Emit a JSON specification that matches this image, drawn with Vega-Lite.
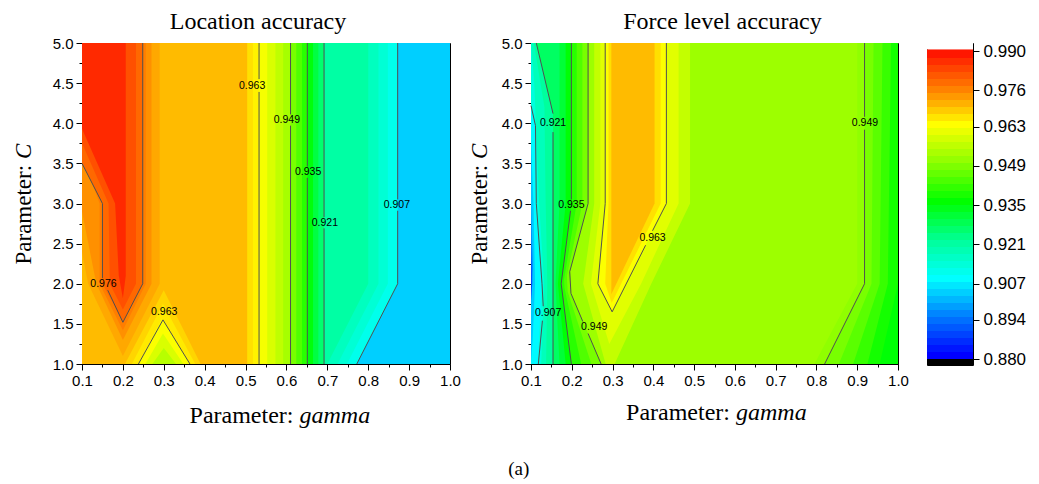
{
  "$schema": "https://vega.github.io/schema/vega-lite/v6.json",
  "background": "white",
  "padding": {"left": 11, "top": 9, "right": 5, "bottom": 5},
  "config": {
    "view": {"stroke": "black", "strokeWidth": 1},
    "axis": {"domainColor": "black", "tickColor": "black", "labelColor": "black", "titleColor": "black", "grid": false, "labelFont": "Liberation Sans", "titleFont": "Liberation Serif", "titleFontWeight": "normal", "labelFontSize": 15, "titleFontSize": 23, "labelOverlap": false, "labelFlush": false},
    "title": {"font": "Liberation Serif", "fontWeight": "normal", "fontSize": 24, "color": "black"}
  },
  "datasets": {
    "locBands": [
      {"b":"b01","v":0.969,"c":1,"g":0.1,"g2":1},{"b":"b01","v":0.969,"c":5,"g":0.1,"g2":1},
      {"b":"b02","v":0.9655,"c":1,"g":0.504,"g2":1},{"b":"b02","v":0.9655,"c":5,"g":0.504,"g2":1},
      {"b":"b03","v":0.9637,"c":1,"g":0.518,"g2":1},{"b":"b03","v":0.9637,"c":5,"g":0.518,"g2":1},
      {"b":"b04","v":0.9615,"c":1,"g":0.533,"g2":1},{"b":"b04","v":0.9615,"c":5,"g":0.533,"g2":1},
      {"b":"b05","v":0.958,"c":1,"g":0.553,"g2":1},{"b":"b05","v":0.958,"c":5,"g":0.553,"g2":1},
      {"b":"b06","v":0.955,"c":1,"g":0.573,"g2":1},{"b":"b06","v":0.955,"c":5,"g":0.573,"g2":1},
      {"b":"b07","v":0.952,"c":1,"g":0.592,"g2":1},{"b":"b07","v":0.952,"c":5,"g":0.592,"g2":1},
      {"b":"b08","v":0.947,"c":1,"g":0.61,"g2":1},{"b":"b08","v":0.947,"c":5,"g":0.61,"g2":1},
      {"b":"b09","v":0.943,"c":1,"g":0.624,"g2":1},{"b":"b09","v":0.943,"c":5,"g":0.624,"g2":1},
      {"b":"b10","v":0.939,"c":1,"g":0.638,"g2":1},{"b":"b10","v":0.939,"c":5,"g":0.638,"g2":1},
      {"b":"b11","v":0.934,"c":1,"g":0.651,"g2":1},{"b":"b11","v":0.934,"c":5,"g":0.651,"g2":1},
      {"b":"b12","v":0.929,"c":1,"g":0.665,"g2":1},{"b":"b12","v":0.929,"c":5,"g":0.665,"g2":1},
      {"b":"b13","v":0.925,"c":1,"g":0.678,"g2":1},{"b":"b13","v":0.925,"c":5,"g":0.678,"g2":1},
      {"b":"b14","v":0.9195,"c":1,"g":0.692,"g2":1},{"b":"b14","v":0.9195,"c":5,"g":0.692,"g2":1},
      {"b":"b15","v":0.916,"c":1,"g":0.70,"g2":1},{"b":"b15","v":0.916,"c":2,"g":0.80,"g2":1},{"b":"b15","v":0.916,"c":5,"g":0.80,"g2":1},
      {"b":"b16","v":0.913,"c":1,"g":0.725,"g2":1},{"b":"b16","v":0.913,"c":2,"g":0.825,"g2":1},{"b":"b16","v":0.913,"c":5,"g":0.825,"g2":1},
      {"b":"b17","v":0.910,"c":1,"g":0.748,"g2":1},{"b":"b17","v":0.910,"c":2,"g":0.848,"g2":1},{"b":"b17","v":0.910,"c":5,"g":0.848,"g2":1},
      {"b":"b18","v":0.9025,"c":1,"g":0.772,"g2":1},{"b":"b18","v":0.9025,"c":2,"g":0.872,"g2":1},{"b":"b18","v":0.9025,"c":5,"g":0.872,"g2":1},
      {"b":"b19","v":0.971,"c":1.1,"g":0.2,"g2":0.2},{"b":"b19","v":0.971,"c":2.0,"g":0.115,"g2":0.29},{"b":"b19","v":0.971,"c":2.4,"g":0.1,"g2":0.29},{"b":"b19","v":0.971,"c":5,"g":0.1,"g2":0.29},
      {"b":"b20","v":0.9735,"c":1.3,"g":0.2,"g2":0.2},{"b":"b20","v":0.9735,"c":2.0,"g":0.135,"g2":0.27},{"b":"b20","v":0.9735,"c":2.9,"g":0.1,"g2":0.27},{"b":"b20","v":0.9735,"c":5,"g":0.1,"g2":0.27},
      {"b":"b21","v":0.9755,"c":1.42,"g":0.2,"g2":0.2},{"b":"b21","v":0.9755,"c":2.0,"g":0.143,"g2":0.256},{"b":"b21","v":0.9755,"c":3.0,"g":0.143,"g2":0.256},{"b":"b21","v":0.9755,"c":3.6,"g":0.1,"g2":0.256},{"b":"b21","v":0.9755,"c":5,"g":0.1,"g2":0.256},
      {"b":"b22","v":0.978,"c":1.52,"g":0.2,"g2":0.2},{"b":"b22","v":0.978,"c":2.0,"g":0.15,"g2":0.2485},{"b":"b22","v":0.978,"c":3.0,"g":0.15,"g2":0.2485},{"b":"b22","v":0.978,"c":3.5,"g":0.1,"g2":0.2485},{"b":"b22","v":0.978,"c":5,"g":0.1,"g2":0.2485},
      {"b":"b23","v":0.981,"c":1.68,"g":0.2,"g2":0.2},{"b":"b23","v":0.981,"c":2.0,"g":0.168,"g2":0.232},{"b":"b23","v":0.981,"c":3.0,"g":0.165,"g2":0.232},{"b":"b23","v":0.981,"c":3.75,"g":0.1,"g2":0.232},{"b":"b23","v":0.981,"c":5,"g":0.1,"g2":0.232},
      {"b":"b24","v":0.9855,"c":1.82,"g":0.2,"g2":0.2},{"b":"b24","v":0.9855,"c":2.1,"g":0.19,"g2":0.207},{"b":"b24","v":0.9855,"c":3.0,"g":0.181,"g2":0.207},{"b":"b24","v":0.9855,"c":3.93,"g":0.1,"g2":0.207},{"b":"b24","v":0.9855,"c":5,"g":0.1,"g2":0.207},
      {"b":"b25","v":0.9665,"c":1,"g":0.205,"g2":0.39},{"b":"b25","v":0.9665,"c":1.92,"g":0.3,"g2":0.3},
      {"b":"b26","v":0.9645,"c":1,"g":0.222,"g2":0.377},{"b":"b26","v":0.9645,"c":1.75,"g":0.298,"g2":0.298},
      {"b":"b27","v":0.962,"c":1,"g":0.238,"g2":0.364},{"b":"b27","v":0.962,"c":1.57,"g":0.296,"g2":0.296},
      {"b":"b28","v":0.958,"c":1,"g":0.255,"g2":0.348},{"b":"b28","v":0.958,"c":1.38,"g":0.298,"g2":0.298},
      {"b":"b29","v":0.954,"c":1,"g":0.272,"g2":0.33},{"b":"b29","v":0.954,"c":1.2,"g":0.3,"g2":0.3}
    ],
    "forceBands": [
      {"b":"f01","v":0.951,"c":1,"g":0.1,"g2":1},{"b":"f01","v":0.951,"c":5,"g":0.1,"g2":1},
      {"b":"f02","v":0.9555,"c":1,"g":0.283,"g2":0.305},{"b":"f02","v":0.9555,"c":2,"g":0.228,"g2":0.395},{"b":"f02","v":0.9555,"c":3,"g":0.255,"g2":0.49},{"b":"f02","v":0.9555,"c":5,"g":0.255,"g2":0.49},
      {"b":"f03","v":0.959,"c":1.25,"g":0.292,"g2":0.292},{"b":"f03","v":0.959,"c":2,"g":0.247,"g2":0.37},{"b":"f03","v":0.959,"c":3,"g":0.27,"g2":0.462},{"b":"f03","v":0.959,"c":5,"g":0.27,"g2":0.462},
      {"b":"f04","v":0.9622,"c":1.65,"g":0.299,"g2":0.299},{"b":"f04","v":0.9622,"c":2,"g":0.264,"g2":0.333},{"b":"f04","v":0.9622,"c":3,"g":0.282,"g2":0.432},{"b":"f04","v":0.9622,"c":5,"g":0.282,"g2":0.432},
      {"b":"f05","v":0.9655,"c":1.76,"g":0.298,"g2":0.298},{"b":"f05","v":0.9655,"c":2,"g":0.282,"g2":0.321},{"b":"f05","v":0.9655,"c":3,"g":0.29,"g2":0.418},{"b":"f05","v":0.9655,"c":5,"g":0.29,"g2":0.418},
      {"b":"f06","v":0.969,"c":1.87,"g":0.297,"g2":0.297},{"b":"f06","v":0.969,"c":3,"g":0.297,"g2":0.403},{"b":"f06","v":0.969,"c":5,"g":0.297,"g2":0.403},
      {"b":"f07","v":0.947,"c":1,"g":0.1,"g2":0.272},{"b":"f07","v":0.947,"c":1.88,"g":0.1,"g2":0.198},{"b":"f07","v":0.947,"c":2.15,"g":0.1,"g2":0.195},{"b":"f07","v":0.947,"c":3,"g":0.1,"g2":0.24},{"b":"f07","v":0.947,"c":5,"g":0.1,"g2":0.24},
      {"b":"f08","v":0.943,"c":1,"g":0.1,"g2":0.248},{"b":"f08","v":0.943,"c":1.9,"g":0.1,"g2":0.19},{"b":"f08","v":0.943,"c":2.1,"g":0.1,"g2":0.188},{"b":"f08","v":0.943,"c":3,"g":0.1,"g2":0.226},{"b":"f08","v":0.943,"c":5,"g":0.1,"g2":0.226},
      {"b":"f09","v":0.939,"c":1,"g":0.1,"g2":0.223},{"b":"f09","v":0.939,"c":1.95,"g":0.1,"g2":0.182},{"b":"f09","v":0.939,"c":2.05,"g":0.1,"g2":0.181},{"b":"f09","v":0.939,"c":3,"g":0.1,"g2":0.212},{"b":"f09","v":0.939,"c":5,"g":0.1,"g2":0.212},
      {"b":"f10","v":0.9345,"c":1,"g":0.1,"g2":0.199},{"b":"f10","v":0.9345,"c":2,"g":0.1,"g2":0.174},{"b":"f10","v":0.9345,"c":3,"g":0.1,"g2":0.199},{"b":"f10","v":0.9345,"c":5,"g":0.1,"g2":0.199},
      {"b":"f11","v":0.930,"c":1,"g":0.1,"g2":0.185},{"b":"f11","v":0.930,"c":2,"g":0.1,"g2":0.166},{"b":"f11","v":0.930,"c":3,"g":0.1,"g2":0.185},{"b":"f11","v":0.930,"c":5,"g":0.1,"g2":0.185},
      {"b":"f12","v":0.926,"c":1,"g":0.1,"g2":0.17},{"b":"f12","v":0.926,"c":2,"g":0.1,"g2":0.16},{"b":"f12","v":0.926,"c":3,"g":0.1,"g2":0.17},{"b":"f12","v":0.926,"c":5,"g":0.1,"g2":0.17},
      {"b":"f13","v":0.9205,"c":1,"g":0.1,"g2":0.154},{"b":"f13","v":0.9205,"c":4.12,"g":0.1,"g2":0.154},{"b":"f13","v":0.9205,"c":5,"g":0.1,"g2":0.113},
      {"b":"f14","v":0.9165,"c":1,"g":0.1,"g2":0.137},{"b":"f14","v":0.9165,"c":2,"g":0.1,"g2":0.14},{"b":"f14","v":0.9165,"c":3,"g":0.1,"g2":0.136},{"b":"f14","v":0.9165,"c":4.2,"g":0.1,"g2":0.133},{"b":"f14","v":0.9165,"c":5,"g":0.1,"g2":0.107},
      {"b":"f15","v":0.912,"c":1,"g":0.1,"g2":0.125},{"b":"f15","v":0.912,"c":2,"g":0.1,"g2":0.132},{"b":"f15","v":0.912,"c":3,"g":0.1,"g2":0.12},{"b":"f15","v":0.912,"c":4.5,"g":0.1,"g2":0.108},{"b":"f15","v":0.912,"c":5,"g":0.1,"g2":0.1},
      {"b":"f16","v":0.907,"c":1,"g":0.1,"g2":0.117},{"b":"f16","v":0.907,"c":2,"g":0.1,"g2":0.126},{"b":"f16","v":0.907,"c":3,"g":0.1,"g2":0.113},{"b":"f16","v":0.907,"c":3.97,"g":0.1,"g2":0.111},{"b":"f16","v":0.907,"c":4.22,"g":0.1,"g2":0.1},
      {"b":"f17","v":0.902,"c":1,"g":0.1,"g2":0.1},{"b":"f17","v":0.902,"c":1.3,"g":0.1,"g2":0.104},{"b":"f17","v":0.902,"c":2,"g":0.1,"g2":0.11},{"b":"f17","v":0.902,"c":3,"g":0.1,"g2":0.106},{"b":"f17","v":0.902,"c":3.8,"g":0.1,"g2":0.1},
      {"b":"f18","v":0.896,"c":1.7,"g":0.1,"g2":0.1},{"b":"f18","v":0.896,"c":2.2,"g":0.1,"g2":0.105},{"b":"f18","v":0.896,"c":3,"g":0.1,"g2":0.1},
      {"b":"f19","v":0.889,"c":1.8,"g":0.1,"g2":0.1},{"b":"f19","v":0.889,"c":2.0,"g":0.1,"g2":0.103},{"b":"f19","v":0.889,"c":2.5,"g":0.1,"g2":0.1},
      {"b":"f20","v":0.9495,"c":1,"g":0.795,"g2":1},{"b":"f20","v":0.9495,"c":2,"g":0.9,"g2":1},{"b":"f20","v":0.9495,"c":5,"g":0.9,"g2":1},
      {"b":"f21","v":0.947,"c":1,"g":0.82,"g2":1},{"b":"f21","v":0.947,"c":2,"g":0.918,"g2":1},{"b":"f21","v":0.947,"c":5,"g":0.918,"g2":1},
      {"b":"f22","v":0.944,"c":1,"g":0.855,"g2":1},{"b":"f22","v":0.944,"c":2,"g":0.935,"g2":1},{"b":"f22","v":0.944,"c":5,"g":0.94,"g2":1},
      {"b":"f23","v":0.9405,"c":1,"g":0.89,"g2":1},{"b":"f23","v":0.9405,"c":2,"g":0.955,"g2":1},{"b":"f23","v":0.9405,"c":5,"g":0.962,"g2":1},
      {"b":"f24","v":0.937,"c":1,"g":0.925,"g2":1},{"b":"f24","v":0.937,"c":2,"g":0.975,"g2":1},{"b":"f24","v":0.937,"c":5,"g":0.983,"g2":1},
      {"b":"f25","v":0.9345,"c":1,"g":0.955,"g2":1},{"b":"f25","v":0.9345,"c":2,"g":1,"g2":1}
    ],
    "locLines": [
      {"id":"a1","o":1,"c":3.5,"g":0.1},{"id":"a1","o":2,"c":3.0,"g":0.15},{"id":"a1","o":3,"c":2.07,"g":0.15},
      {"id":"a2","o":1,"c":1.92,"g":0.163},{"id":"a2","o":2,"c":1.52,"g":0.2},{"id":"a2","o":3,"c":2.0,"g":0.2485},{"id":"a2","o":4,"c":5.0,"g":0.2485},
      {"id":"a3","o":1,"c":1.0,"g":0.238},{"id":"a3","o":2,"c":1.55,"g":0.298},{"id":"a3","o":3,"c":1.0,"g":0.364},
      {"id":"a4","o":1,"c":5.0,"g":0.533},{"id":"a4","o":2,"c":4.55,"g":0.533},
      {"id":"a5","o":1,"c":4.39,"g":0.533},{"id":"a5","o":2,"c":1.0,"g":0.533},
      {"id":"a6","o":1,"c":5.0,"g":0.61},{"id":"a6","o":2,"c":4.11,"g":0.61},
      {"id":"a7","o":1,"c":3.97,"g":0.61},{"id":"a7","o":2,"c":1.0,"g":0.61},
      {"id":"a8","o":1,"c":5.0,"g":0.651},{"id":"a8","o":2,"c":3.46,"g":0.651},
      {"id":"a9","o":1,"c":3.32,"g":0.651},{"id":"a9","o":2,"c":1.0,"g":0.651},
      {"id":"b1","o":1,"c":5.0,"g":0.692},{"id":"b1","o":2,"c":2.83,"g":0.692},
      {"id":"b2","o":1,"c":2.69,"g":0.692},{"id":"b2","o":2,"c":1.0,"g":0.692},
      {"id":"b3","o":1,"c":5.0,"g":0.872},{"id":"b3","o":2,"c":3.05,"g":0.872},
      {"id":"b4","o":1,"c":2.91,"g":0.872},{"id":"b4","o":2,"c":2.0,"g":0.872},{"id":"b4","o":3,"c":1.0,"g":0.772}
    ],
    "forceLines": [
      {"id":"a1","o":1,"c":5.0,"g":0.113},{"id":"a1","o":2,"c":4.12,"g":0.154},
      {"id":"a2","o":1,"c":3.89,"g":0.154},{"id":"a2","o":2,"c":1.0,"g":0.154},
      {"id":"a3","o":1,"c":4.22,"g":0.1},{"id":"a3","o":2,"c":3.97,"g":0.111},{"id":"a3","o":3,"c":3.0,"g":0.113},{"id":"a3","o":4,"c":2.0,"g":0.127},{"id":"a3","o":5,"c":1.72,"g":0.13},
      {"id":"a4","o":1,"c":1.54,"g":0.128},{"id":"a4","o":2,"c":1.0,"g":0.118},
      {"id":"a5","o":1,"c":5.0,"g":0.199},{"id":"a5","o":2,"c":3.05,"g":0.199},
      {"id":"a6","o":1,"c":2.91,"g":0.197},{"id":"a6","o":2,"c":2.0,"g":0.174},{"id":"a6","o":3,"c":1.0,"g":0.199},
      {"id":"a7","o":1,"c":5.0,"g":0.24},{"id":"a7","o":2,"c":3.0,"g":0.24},{"id":"a7","o":3,"c":2.15,"g":0.195},{"id":"a7","o":4,"c":1.88,"g":0.198},{"id":"a7","o":5,"c":1.53,"g":0.227},
      {"id":"a8","o":1,"c":1.38,"g":0.24},{"id":"a8","o":2,"c":1.0,"g":0.272},
      {"id":"a9","o":1,"c":5.0,"g":0.282},{"id":"a9","o":2,"c":3.0,"g":0.282},{"id":"a9","o":3,"c":2.0,"g":0.264},{"id":"a9","o":4,"c":1.65,"g":0.299},{"id":"a9","o":5,"c":2.48,"g":0.381},
      {"id":"b1","o":1,"c":2.66,"g":0.398},{"id":"b1","o":2,"c":3.0,"g":0.432},{"id":"b1","o":3,"c":5.0,"g":0.432},
      {"id":"b2","o":1,"c":5.0,"g":0.918},{"id":"b2","o":2,"c":4.08,"g":0.918},
      {"id":"b3","o":1,"c":3.92,"g":0.918},{"id":"b3","o":2,"c":2.0,"g":0.918},{"id":"b3","o":3,"c":1.0,"g":0.82}
    ],
    "locLabels": [
      {"t":"0.976","c":2.0,"g":0.1525},
      {"t":"0.963","c":1.65,"g":0.301},
      {"t":"0.963","c":4.47,"g":0.516},
      {"t":"0.949","c":4.04,"g":0.601},
      {"t":"0.935","c":3.39,"g":0.653},
      {"t":"0.921","c":2.76,"g":0.694},
      {"t":"0.907","c":2.98,"g":0.870}
    ],
    "forceLabels": [
      {"t":"0.921","c":4.0,"g":0.154},
      {"t":"0.935","c":2.98,"g":0.199},
      {"t":"0.907","c":1.63,"g":0.142},
      {"t":"0.949","c":1.46,"g":0.255},
      {"t":"0.963","c":2.57,"g":0.398},
      {"t":"0.949","c":4.0,"g":0.919}
    ],
    "cbar": [
      {"lo":0.8779,"hi":0.88},{"lo":0.88,"hi":0.8825},{"lo":0.8825,"hi":0.885},{"lo":0.885,"hi":0.8875},{"lo":0.8875,"hi":0.89},
      {"lo":0.89,"hi":0.8925},{"lo":0.8925,"hi":0.895},{"lo":0.895,"hi":0.8975},{"lo":0.8975,"hi":0.9},{"lo":0.9,"hi":0.9025},
      {"lo":0.9025,"hi":0.905},{"lo":0.905,"hi":0.9075},{"lo":0.9075,"hi":0.91},{"lo":0.91,"hi":0.9125},{"lo":0.9125,"hi":0.915},
      {"lo":0.915,"hi":0.9175},{"lo":0.9175,"hi":0.92},{"lo":0.92,"hi":0.9225},{"lo":0.9225,"hi":0.925},{"lo":0.925,"hi":0.9275},
      {"lo":0.9275,"hi":0.93},{"lo":0.93,"hi":0.9325},{"lo":0.9325,"hi":0.935},{"lo":0.935,"hi":0.9375},{"lo":0.9375,"hi":0.94},
      {"lo":0.94,"hi":0.9425},{"lo":0.9425,"hi":0.945},{"lo":0.945,"hi":0.9475},{"lo":0.9475,"hi":0.95},{"lo":0.95,"hi":0.9525},
      {"lo":0.9525,"hi":0.955},{"lo":0.955,"hi":0.9575},{"lo":0.9575,"hi":0.96},{"lo":0.96,"hi":0.9625},{"lo":0.9625,"hi":0.965},
      {"lo":0.965,"hi":0.9675},{"lo":0.9675,"hi":0.97},{"lo":0.97,"hi":0.9725},{"lo":0.9725,"hi":0.975},{"lo":0.975,"hi":0.9775},
      {"lo":0.9775,"hi":0.98},{"lo":0.98,"hi":0.9825},{"lo":0.9825,"hi":0.985},{"lo":0.985,"hi":0.9875},{"lo":0.9875,"hi":0.9907},
      {"lo":0.9907,"hi":0.9929}
    ]
  },
  "hconcat": [
    {
      "width": 368, "height": 321,
      "title": {"text": "Location accuracy", "offset": 2, "dx": -8},
      "layer": [
        {
          "data": {"name": "locBands"},
          "mark": {"type": "area", "orient": "horizontal"},
          "encoding": {
            "y": {"field": "c", "type": "quantitative", "scale": {"domain": [1, 5], "nice": false, "zero": false},
                  "axis": {"title": "Parameter:", "titleX": -52, "titleY": 221, "titleAlign": "left", "titleAngle": -90, "titleBaseline": "alphabetic",
                           "values": [1,1.25,1.5,1.75,2,2.25,2.5,2.75,3,3.25,3.5,3.75,4,4.25,4.5,4.75,5],
                           "labelExpr": "abs(datum.value*2-round(datum.value*2))<0.01 ? format(datum.value,'.1f') : ''",
                           "tickSize": {"condition": {"test": "abs(datum.value*2-round(datum.value*2))>0.01", "value": 3}, "value": 6},
                           "labelPadding": 3}},
            "x": {"field": "g", "type": "quantitative", "scale": {"domain": [0.1, 1], "nice": false, "zero": false},
                  "axis": {"title": "Parameter:", "titleX": 211, "titleY": 58, "titleAlign": "right", "titleBaseline": "alphabetic", "titleFontSize": 24,
                           "values": [0.1,0.15,0.2,0.25,0.3,0.35,0.4,0.45,0.5,0.55,0.6,0.65,0.7,0.75,0.8,0.85,0.9,0.95,1.0],
                           "labelExpr": "abs(datum.value*10-round(datum.value*10))<0.01 ? format(datum.value,'.1f') : ''",
                           "tickSize": {"condition": {"test": "abs(datum.value*10-round(datum.value*10))>0.01", "value": 3}, "value": 6},
                           "labelPadding": 3}},
            "x2": {"field": "g2"},
            "color": {"field": "v", "type": "quantitative", "legend": null,
                      "scale": {"type": "linear", "domain": [0.8779, 0.87995, 0.88, 0.8935, 0.9075, 0.921, 0.935, 0.949, 0.9625, 0.969, 0.976, 0.983, 0.99, 0.9906, 0.9907, 0.993],
                                "range": ["#000000","#000000","#0000ff","#0078ff","#00ffff","#00ff99","#00ff00","#8cff00","#ffff00","#ffbb00","#ff7800","#ff4000","#ff0000","#ff0000","#ffffff","#ffffff"], "interpolate": "rgb", "clamp": true}},
            "detail": {"field": "b"}
          }
        },
        {
          "data": {"name": "locLines"},
          "mark": {"type": "line", "color": "#505050", "strokeWidth": 1},
          "encoding": {
            "x": {"field": "g", "type": "quantitative", "axis": {"orient": "bottom", "title": "gamma", "titleFontStyle": "italic", "titleFontSize": 24, "titleX": 217, "titleY": 58, "titleAlign": "left", "titleBaseline": "alphabetic", "labels": false, "ticks": false, "domain": false}},
            "y": {"field": "c", "type": "quantitative", "axis": {"orient": "left", "title": "C", "titleFontStyle": "italic", "titleX": -52, "titleY": 115.6, "titleAlign": "left", "titleAngle": -90, "titleBaseline": "alphabetic", "labels": false, "ticks": false, "domain": false}},
            "detail": {"field": "id"},
            "order": {"field": "o", "type": "quantitative"}
          }
        },
        {
          "data": {"name": "locLabels"},
          "mark": {"type": "text", "font": "Liberation Sans", "fontSize": 10.5, "color": "black", "align": "center", "baseline": "middle"},
          "encoding": {
            "x": {"field": "g", "type": "quantitative", "axis": null},
            "y": {"field": "c", "type": "quantitative", "axis": null},
            "text": {"field": "t"}
          }
        }
      ],
      "resolve": {"axis": {"x": "independent", "y": "independent"}}
    },
    {
      "hconcat": [
        {
          "width": 367, "height": 321,
          "title": {"text": "Force level accuracy", "offset": 2, "dx": 8},
          "layer": [
            {
              "data": {"name": "forceBands"},
              "mark": {"type": "area", "orient": "horizontal"},
              "encoding": {
                "y": {"field": "c", "type": "quantitative", "scale": {"domain": [1, 5], "nice": false, "zero": false},
                      "axis": {"title": "Parameter:", "titleX": -45, "titleY": 221, "titleAlign": "left", "titleAngle": -90, "titleBaseline": "alphabetic",
                               "values": [1,1.25,1.5,1.75,2,2.25,2.5,2.75,3,3.25,3.5,3.75,4,4.25,4.5,4.75,5],
                               "labelExpr": "abs(datum.value*2-round(datum.value*2))<0.01 ? format(datum.value,'.1f') : ''",
                               "tickSize": {"condition": {"test": "abs(datum.value*2-round(datum.value*2))>0.01", "value": 3}, "value": 6},
                               "labelPadding": 3}},
                "x": {"field": "g", "type": "quantitative", "scale": {"domain": [0.1, 1], "nice": false, "zero": false},
                      "axis": {"title": "Parameter:", "titleX": 198.5, "titleY": 55, "titleAlign": "right", "titleBaseline": "alphabetic", "titleFontSize": 24,
                               "values": [0.1,0.15,0.2,0.25,0.3,0.35,0.4,0.45,0.5,0.55,0.6,0.65,0.7,0.75,0.8,0.85,0.9,0.95,1.0],
                               "labelExpr": "abs(datum.value*10-round(datum.value*10))<0.01 ? format(datum.value,'.1f') : ''",
                               "tickSize": {"condition": {"test": "abs(datum.value*10-round(datum.value*10))>0.01", "value": 3}, "value": 6},
                               "labelPadding": 3}},
                "x2": {"field": "g2"},
                "color": {"field": "v", "type": "quantitative", "legend": null,
                          "scale": {"type": "linear", "domain": [0.8779, 0.87995, 0.88, 0.8935, 0.9075, 0.921, 0.935, 0.949, 0.9625, 0.969, 0.976, 0.983, 0.99, 0.9906, 0.9907, 0.993],
                                    "range": ["#000000","#000000","#0000ff","#0078ff","#00ffff","#00ff99","#00ff00","#8cff00","#ffff00","#ffbb00","#ff7800","#ff4000","#ff0000","#ff0000","#ffffff","#ffffff"], "interpolate": "rgb", "clamp": true}},
                "detail": {"field": "b"}
              }
            },
            {
              "data": {"name": "forceLines"},
              "mark": {"type": "line", "color": "#505050", "strokeWidth": 1},
              "encoding": {
                "x": {"field": "g", "type": "quantitative", "axis": {"orient": "bottom", "title": "gamma", "titleFontStyle": "italic", "titleFontSize": 24, "titleX": 204.5, "titleY": 55, "titleAlign": "left", "titleBaseline": "alphabetic", "labels": false, "ticks": false, "domain": false}},
                "y": {"field": "c", "type": "quantitative", "axis": {"orient": "left", "title": "C", "titleFontStyle": "italic", "titleX": -45, "titleY": 115.6, "titleAlign": "left", "titleAngle": -90, "titleBaseline": "alphabetic", "labels": false, "ticks": false, "domain": false}},
                "detail": {"field": "id"},
                "order": {"field": "o", "type": "quantitative"}
              }
            },
            {
              "data": {"name": "forceLabels"},
              "mark": {"type": "text", "font": "Liberation Sans", "fontSize": 10.5, "color": "black", "align": "center", "baseline": "middle"},
              "encoding": {
                "x": {"field": "g", "type": "quantitative", "axis": null},
                "y": {"field": "c", "type": "quantitative", "axis": null},
                "text": {"field": "t"}
              }
            }
          ],
          "resolve": {"axis": {"x": "independent", "y": "independent"}}
        },
        {
          "width": 46, "height": 322,
          "data": {"name": "cbar"},
          "mark": {"type": "rect"},
          "encoding": {
            "y": {"field": "lo", "type": "quantitative", "scale": {"domain": [0.8779, 0.9929], "nice": false, "zero": false},
                  "axis": {"orient": "right", "values": [0.88, 0.894, 0.907, 0.921, 0.935, 0.949, 0.963, 0.976, 0.99], "format": ".3f", "title": null, "tickSize": 6, "labelFontSize": 17, "labelPadding": 4, "domain": false}},
            "y2": {"field": "hi"},
            "color": {"field": "lo", "type": "quantitative", "legend": null,
                      "scale": {"type": "linear", "domain": [0.8779, 0.87995, 0.88, 0.8935, 0.9075, 0.921, 0.935, 0.949, 0.9625, 0.969, 0.976, 0.983, 0.99, 0.9906, 0.9907, 0.993],
                                "range": ["#000000","#000000","#0000ff","#0078ff","#00ffff","#00ff99","#00ff00","#8cff00","#ffff00","#ffbb00","#ff7800","#ff4000","#ff0000","#ff0000","#ffffff","#ffffff"], "interpolate": "rgb", "clamp": true}}
          }
        }
      ],
      "spacing": 29,
      "bounds": "flush"
    }
  ],
  "spacing": 6,
  "title": {"text": "(a)", "orient": "bottom", "anchor": "middle", "fontSize": 19, "offset": 32}
}
